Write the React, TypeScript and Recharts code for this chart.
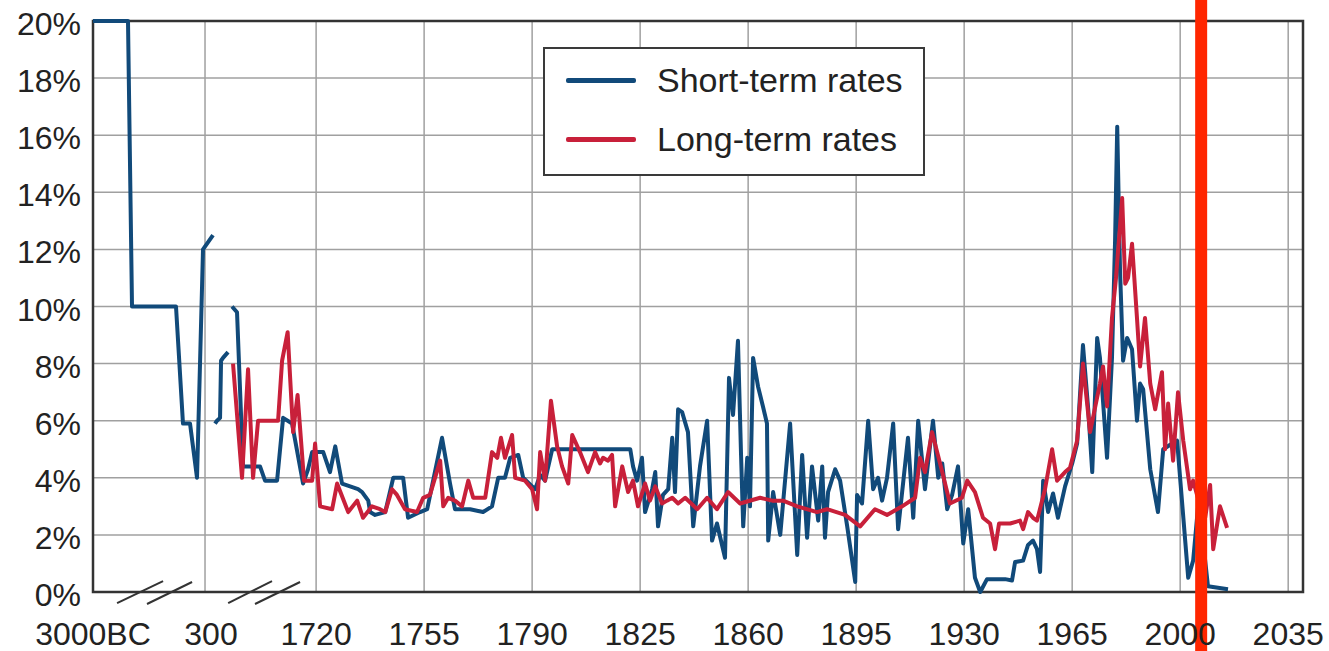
import React from 'react';
import { LineChart, Line, XAxis, YAxis, CartesianGrid, ReferenceLine, ReferenceArea, Legend } from 'recharts';

const FONT = '"Liberation Sans", Arial, Helvetica, sans-serif';
const BLUE = '#114a7a';
const RED = '#c8203a';
const MARKER = '#ff2600';

// x-axis tick years and labels (first two intervals are compressed "broken" spans)
const xTickYears = [-3000, 300, 1720, 1755, 1790, 1825, 1860, 1895, 1930, 1965, 2000, 2035];
const xTickLabels = ['3000BC', '300', '1720', '1755', '1790', '1825', '1860', '1895', '1930', '1965', '2000', '2035'];
const yTicks = [0, 2, 4, 6, 8, 10, 12, 14, 16, 18, 20];

// Short-term rates, [year, percent]
const shortTermAncient: [number, number][] = [
  [-3000, 20], [-1969, 20], [-1851, 10], [-555, 10], [-349, 5.9], [-142, 5.9], [64, 4.0], [241, 12.0], [402, 12.5],
];
const shortTermLateAntique: [number, number][] = [
  [428, 5.9], [453, 6.0], [492, 6.1], [505, 8.1], [530, 8.2], [594, 8.4],
];
const shortTermMedieval: [number, number][] = [
  [645, 10.0], [709, 9.8], [786, 4.4], [1003, 4.4], [1067, 3.9], [1221, 3.9], [1298, 6.1], [1413, 5.9],
  [1553, 3.8], [1617, 4.3], [1669, 4.9],
];
const shortTermModern: [number, number][] = [
  [1722.3, 4.9], [1724.5, 4.2], [1726.2, 5.1], [1728.4, 3.8], [1731.0, 3.7], [1733.6, 3.6], [1734.9, 3.5],
  [1736.9, 3.2], [1737.5, 2.8], [1739.1, 2.7], [1742.4, 2.8], [1745.0, 4.0], [1748.2, 4.0], [1749.8, 2.6],
  [1753.7, 2.8], [1756.0, 2.9], [1760.8, 5.4], [1763.4, 3.8], [1765.0, 2.9], [1769.9, 2.9], [1774.1, 2.8],
  [1777.0, 3.0], [1779.0, 4.0], [1781.2, 4.0], [1782.9, 4.7], [1785.5, 4.8], [1787.1, 4.0], [1790.0, 3.7],
  [1791.0, 3.6], [1792.6, 4.1], [1794.2, 3.9], [1796.5, 5.0], [1821.8, 5.0], [1822.7, 4.4], [1824.0, 3.9],
  [1825.6, 4.7], [1826.6, 2.8], [1828.9, 3.6], [1829.9, 4.2], [1830.8, 2.3], [1832.4, 3.4], [1834.1, 3.6],
  [1835.4, 5.4], [1836.3, 3.5], [1837.3, 6.4], [1838.6, 6.3], [1840.5, 5.6], [1842.2, 2.3], [1844.4, 4.4],
  [1846.7, 6.0], [1848.3, 1.8], [1849.9, 2.4], [1852.5, 1.2], [1853.2, 4.6], [1853.8, 7.5], [1855.1, 6.2],
  [1856.7, 8.8], [1857.7, 4.8], [1858.4, 2.3], [1859.7, 4.7], [1860.6, 3.0], [1861.6, 8.2], [1863.2, 7.2],
  [1864.8, 6.5], [1866.1, 5.9], [1866.5, 1.8], [1868.1, 3.5], [1870.4, 2.0], [1873.6, 5.9], [1875.9, 1.3],
  [1877.5, 4.8], [1879.1, 1.9], [1880.7, 4.4], [1882.7, 2.5], [1884.0, 4.4], [1884.9, 1.9], [1885.9, 3.5],
  [1888.2, 4.3], [1889.8, 3.9], [1892.1, 2.3], [1894.7, 0.35], [1895.3, 3.4], [1896.9, 3.1], [1898.9, 6.0],
  [1900.5, 3.6], [1902.1, 4.0], [1903.4, 3.2], [1905.0, 4.0], [1907.0, 5.9], [1908.6, 2.2], [1910.2, 3.8],
  [1911.8, 5.4], [1913.5, 2.6], [1915.1, 6.0], [1917.3, 3.6], [1919.9, 6.0], [1921.6, 4.0], [1922.9, 4.5],
  [1924.5, 2.9], [1926.1, 3.4], [1928.0, 4.4], [1929.7, 1.7], [1931.3, 2.9], [1933.5, 0.5], [1935.2, 0.0],
  [1937.4, 0.45], [1943.3, 0.45], [1945.5, 0.4], [1946.5, 1.05], [1949.1, 1.1], [1950.7, 1.65], [1952.3, 1.8],
  [1953.6, 1.5], [1954.6, 0.7], [1955.6, 3.9], [1957.2, 2.8], [1958.8, 3.45], [1960.4, 2.6], [1962.7, 3.7],
  [1965.0, 4.5], [1966.6, 5.2], [1968.5, 8.65], [1970.2, 6.4], [1971.5, 4.2], [1973.1, 8.9], [1974.0, 8.2],
  [1976.3, 4.7], [1977.9, 8.2], [1978.9, 12.3], [1979.6, 16.3], [1980.5, 11.3], [1981.5, 8.1], [1982.8, 8.9],
  [1984.4, 8.5], [1986.0, 6.0], [1987.0, 7.3], [1988.0, 7.1], [1990.3, 4.3], [1992.8, 2.8], [1994.5, 5.0],
  [1997.4, 5.2], [1999.0, 5.3], [2002.6, 0.5], [2004.2, 1.1], [2005.8, 3.0], [2007.7, 1.5], [2009.0, 0.2],
  [2015.5, 0.1],
];

// Long-term rates, [year, percent]
const longTermEarly: [number, number][] = [
  [658, 8.0], [773, 4.0], [850, 7.8], [914, 4.0], [978, 6.0], [1234, 6.0], [1285, 8.1], [1356, 9.1],
  [1426, 5.6], [1483, 6.9], [1566, 3.9], [1669, 3.9], [1707, 5.2],
];
const longTermModern: [number, number][] = [
  [1721.3, 3.0], [1725.2, 2.9], [1726.8, 3.8], [1730.4, 2.8], [1733.3, 3.2], [1735.2, 2.6], [1738.1, 3.0],
  [1740.7, 2.9], [1742.4, 2.8], [1744.6, 3.6], [1746.2, 3.4], [1748.8, 2.9], [1752.7, 2.8], [1754.7, 3.3],
  [1756.9, 3.4], [1760.2, 4.6], [1761.2, 3.0], [1762.8, 3.3], [1765.0, 3.2], [1767.3, 3.0], [1769.3, 3.9],
  [1770.9, 3.3], [1774.8, 3.3], [1777.0, 4.9], [1778.7, 4.7], [1779.9, 5.4], [1781.2, 4.7], [1783.5, 5.5],
  [1784.5, 4.0], [1787.7, 3.9], [1790.0, 3.6], [1791.6, 2.9], [1792.6, 4.9], [1794.2, 3.9], [1796.1, 6.7],
  [1798.1, 5.1], [1799.7, 4.4], [1801.7, 3.8], [1803.0, 5.5], [1805.5, 4.9], [1808.1, 4.2], [1810.4, 4.9],
  [1812.0, 4.5], [1813.0, 4.7], [1814.6, 4.6], [1815.9, 4.8], [1816.9, 3.0], [1819.2, 4.4], [1821.1, 3.5],
  [1822.7, 3.9], [1824.3, 3.0], [1826.6, 3.8], [1828.2, 3.2], [1829.9, 3.7], [1832.1, 3.1], [1833.7, 3.2],
  [1835.4, 3.3], [1837.3, 3.1], [1839.6, 3.3], [1843.5, 2.9], [1846.7, 3.3], [1849.9, 2.9], [1853.5, 3.5],
  [1857.4, 3.1], [1863.9, 3.3], [1867.8, 3.2], [1871.3, 3.2], [1875.9, 3.0], [1882.3, 2.8], [1885.6, 2.9],
  [1891.4, 2.7], [1896.3, 2.3], [1901.1, 2.9], [1905.0, 2.7], [1909.9, 3.0], [1914.1, 3.3], [1915.7, 4.7],
  [1917.3, 4.2], [1919.6, 5.6], [1922.9, 4.2], [1925.4, 3.1], [1929.3, 3.3], [1931.0, 3.9], [1933.5, 3.5],
  [1936.1, 2.6], [1938.4, 2.4], [1940.0, 1.5], [1941.3, 2.4], [1944.9, 2.4], [1948.1, 2.5], [1949.1, 2.2],
  [1950.7, 2.8], [1952.3, 2.6], [1953.6, 2.5], [1956.2, 3.6], [1958.5, 5.0], [1960.1, 3.9], [1962.7, 4.2],
  [1964.3, 4.35], [1966.6, 5.3], [1968.5, 8.0], [1970.8, 5.6], [1974.0, 7.3], [1975.0, 7.9], [1976.3, 6.5],
  [1977.9, 9.6], [1979.2, 11.0], [1981.2, 13.8], [1982.2, 10.8], [1983.1, 11.0], [1984.4, 12.2], [1986.0, 9.6],
  [1987.0, 7.9], [1988.6, 9.6], [1990.3, 7.3], [1991.9, 6.4], [1994.1, 7.7], [1995.1, 5.0], [1996.1, 6.6],
  [1997.7, 4.6], [1999.3, 7.0], [2001.0, 5.3], [2003.2, 3.6], [2004.2, 3.9], [2006.5, 3.0], [2008.1, 2.6],
  [2009.7, 3.75], [2010.7, 1.5], [2012.9, 3.0], [2015.2, 2.25],
];

// year marked by the vertical highlight
const markerYear = 2006.8;

// axis scale: the first two intervals are compressed spans; linear years from 1720
const SEG0_START = 1647.7;
const SEG1_START = 1684;
const X_MAX = 2039.8;
function toAxis(year: number): number {
  if (year <= 300) return SEG0_START + ((year + 3000) / 3300) * (SEG1_START - SEG0_START);
  if (year < 1720) return SEG1_START + ((year - 300) / 1420) * (1720 - SEG1_START);
  return year;
}

type Pt = { pos: number; rate: number | null };
function build(segments: [number, number][][]): Pt[] {
  const out: Pt[] = [];
  segments.forEach((seg, i) => {
    if (i > 0) {
      const prev = segments[i - 1][segments[i - 1].length - 1][0];
      out.push({ pos: (toAxis(prev) + toAxis(seg[0][0])) / 2, rate: null });
    }
    seg.forEach(([y, r]) => out.push({ pos: toAxis(y), rate: r }));
  });
  return out;
}

const shortData = build([shortTermAncient, shortTermLateAntique, shortTermMedieval.concat(shortTermModern)]);
const longData = build([longTermEarly.concat(longTermModern)]);
const xTicks = xTickYears.map(toAxis);

// axis-break marks below the compressed spans (axis units, percent)
const breakMarks: [number, number, number, number][] = [
  [1655.5, -0.39, 1670.4, 0.38],
  [1665.2, -0.42, 1679.8, 0.35],
  [1691.5, -0.39, 1705.7, 0.38],
  [1700.2, -0.42, 1714.8, 0.35],
];

const XTick = (props: any) => {
  const { x, y, index } = props;
  const label = xTickLabels[index] ?? '';
  const dx = label === '300' ? 6 : 0;
  return (
    <text x={x + dx} y={y + 22} textAnchor="middle" fontFamily={FONT} fontSize={32} fill="#222">
      {label}
    </text>
  );
};

const YTick = (props: any) => {
  const { x, y, payload } = props;
  return (
    <text x={x} y={y + 3} textAnchor="end" dominantBaseline="central" fontFamily={FONT} fontSize={32} fill="#222">
      {`${payload.value}%`}
    </text>
  );
};

const LegendBox = () => (
  <div
    style={{
      width: 382,
      height: 129,
      boxSizing: 'border-box',
      border: '2px solid #3a3a3a',
      background: '#fff',
      position: 'relative',
      fontFamily: FONT,
      fontSize: 34,
      color: '#222',
    }}
  >
    {[
      { label: 'Short-term rates', color: BLUE, c: 33 },
      { label: 'Long-term rates', color: RED, c: 92 },
    ].map((r) => (
      <React.Fragment key={r.label}>
        <div style={{ position: 'absolute', left: 21, top: r.c - 2 - 2.5, width: 70, height: 5, background: r.color, borderRadius: 2 }} />
        <div style={{ position: 'absolute', left: 112, top: r.c - 2 - 17, lineHeight: '34px', whiteSpace: 'nowrap' }}>{r.label}</div>
      </React.Fragment>
    ))}
  </div>
);

export default function App() {
  return (
    <div style={{ position: 'absolute', left: 0, top: 0, width: 1329, height: 651, background: '#fff' }}>
      <LineChart width={1329} height={651} margin={{ top: 21, right: 26, left: 0, bottom: 0 }}>
        <CartesianGrid stroke="#a0a0a0" strokeWidth={1.5} />
        <XAxis
          type="number"
          dataKey="pos"
          domain={[SEG0_START, X_MAX]}
          ticks={xTicks}
          interval={0}
          allowDataOverflow
          height={59}
          tickSize={0}
          tickMargin={31}
          tickLine={false}
          axisLine={false}
          tick={<XTick />}
        />
        <YAxis
          type="number"
          domain={[0, 20]}
          ticks={yTicks}
          interval={0}
          width={93}
          tickSize={0}
          tickMargin={12}
          tickLine={false}
          axisLine={false}
          tick={<YTick />}
        />
        <Line data={shortData} dataKey="rate" name="Short-term rates" type="linear" stroke={BLUE} strokeWidth={4} dot={false} activeDot={false} connectNulls={false} isAnimationActive={false} strokeLinejoin="round" />
        <Line data={longData} dataKey="rate" name="Long-term rates" type="linear" stroke={RED} strokeWidth={4} dot={false} activeDot={false} connectNulls={false} isAnimationActive={false} strokeLinejoin="round" />
        <ReferenceArea x1={SEG0_START} x2={X_MAX} y1={0} y2={20} fill="none" stroke="#333" strokeWidth={2.5} ifOverflow="visible" />
        {breakMarks.map(([x1, y1, x2, y2], i) => (
          <ReferenceLine key={i} segment={[{ x: x1, y: y1 }, { x: x2, y: y2 }]} stroke="#333" strokeWidth={2} ifOverflow="visible" />
        ))}
        <ReferenceLine segment={[{ x: markerYear, y: -2.2 }, { x: markerYear, y: 20.8 }]} stroke={MARKER} strokeWidth={12} ifOverflow="visible" />
        <Legend
          layout="vertical"
          align="center"
          verticalAlign="middle"
          content={<LegendBox />}
          wrapperStyle={{ position: 'absolute', left: 543, top: 47, width: 382, height: 129 }}
        />
      </LineChart>
    </div>
  );
}
